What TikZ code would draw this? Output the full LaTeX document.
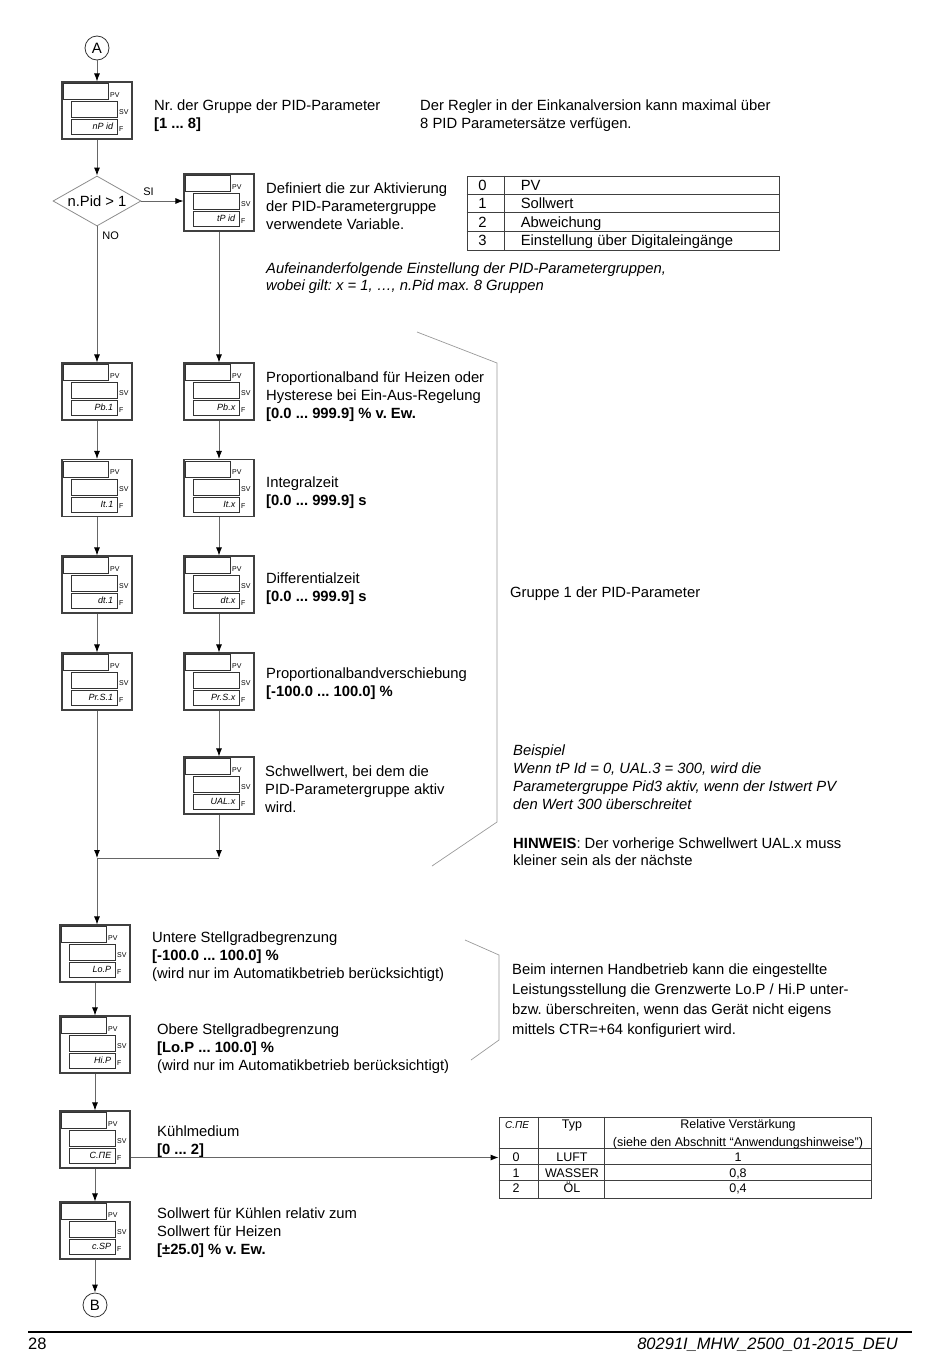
\documentclass[tikz,border=0pt]{standalone}
\usepackage{fontspec}
\setmainfont{Liberation Sans}
\frenchspacing
\usetikzlibrary{positioning,calc,arrows.meta,shapes.geometric}
\tikzset{disp/.style={rectangle, draw=black!75, line width=1.1pt, minimum width=70pt, minimum height=57pt, inner sep=0pt},
       dispin/.style={draw=black!80, line width=0.7pt},
       tag/.style={anchor=base west, inner sep=0pt, font=\fontsize{7}{7}\selectfont},
       segtxt/.style={anchor=base east, inner sep=0pt, font=\fontsize{9}{9}\selectfont\itshape},
       flow/.style={draw=black!60, line width=0.9pt, -{Latex[length=8pt,width=6pt,color=black]}},
       conn/.style={draw=black!60, line width=0.9pt},
       brack/.style={draw=black!40, line width=0.7pt},
       txt/.style={anchor=north west, align=left, inner sep=0pt, font=\fontsize{14.8}{18}\selectfont},
       lbl/.style={inner sep=0pt, font=\fontsize{11}{11}\selectfont},
       cnode/.style={circle, draw=black!80, line width=0.8pt, minimum size=24pt, inner sep=0pt, font=\fontsize{15}{15}\selectfont},
       decide/.style={diamond, draw=black!45, line width=0.8pt, aspect=1.76, minimum width=88pt, minimum height=50pt, inner sep=0pt, font=\fontsize{14.8}{15}\selectfont},
       tabframe/.style={rectangle, draw=black!75, line width=0.8pt, inner sep=0pt},
       tabline/.style={draw=black!75, line width=0.6pt},
       celltxt/.style={anchor=base, inner sep=0pt, font=\fontsize{14.8}{15}\selectfont},
       smallcell/.style={anchor=base, inner sep=0pt, font=\fontsize{12.5}{14}\selectfont},
       foot/.style={inner sep=0pt, font=\fontsize{16.5}{17}\selectfont}}
\newcommand\dispbox[3]{%
  \node[disp] (#1) at (#2) {};
  \draw[dispin] ($(#1.north west)+(2,2)$) rectangle ($(#1.north west)+(47,18)$);
  \draw[dispin] ($(#1.north west)+(10,20)$) rectangle ($(#1.north west)+(56,36)$);
  \draw[dispin] ($(#1.north west)+(10,38)$) rectangle ($(#1.north west)+(56,53)$);
  \node[tag] (#1-pv) at ($(#1.north west)+(48.5,16)$) {PV};
  \node[tag] (#1-sv) at ($(#1.north west)+(57.5,33)$) {SV};
  \node[tag] (#1-f) at ($(#1.north west)+(57.5,50)$) {F};
  \node[segtxt] (#1-code) at ($(#1.north west)+(52,48.5)$) {#3};}
\begin{document}
\begin{tikzpicture}[x=1pt,y=-1pt]
\useasboundingbox (0,0) rectangle (950,1360);
\node[cnode] (pA) at (97,48) {A};
\dispbox{npid}{97,110.5}{nP id}
\node[decide] (npidq) at (97,201) {n.Pid > 1};
\dispbox{tpid}{219,202.5}{tP id}
\dispbox{pbone}{97,391.5}{Pb.1}
\dispbox{itone}{97,488}{It.1}
\dispbox{dtone}{97,584.5}{dt.1}
\dispbox{prsone}{97,681.5}{Pr.S.1}
\dispbox{pbx}{219,391.5}{Pb.x}
\dispbox{itx}{219,488}{It.x}
\dispbox{dtx}{219,584.5}{dt.x}
\dispbox{prsx}{219,681.5}{Pr.S.x}
\dispbox{ualx}{219,785.5}{UAL.x}
\dispbox{lop}{95,953.5}{Lo.P}
\dispbox{hip}{95,1044.5}{Hi.P}
\dispbox{cme}{95,1139.5}{C.ΠE}
\dispbox{csp}{95,1230.5}{c.SP}
\node[cnode] (pB) at (95,1305) {B};

\draw[flow] (pA) -- (npid);
\draw[flow] (npid) -- (npidq);
\draw[flow] (npidq.east) -- (npidq.east -| tpid.west) node[lbl, pos=0.17, above=5pt] (si) {SI};
\draw[flow] (npidq.south) -- (pbone.north) node[lbl, pos=0.07, right=5pt] (no) {NO};
\draw[flow] (tpid) -- (pbx);
\foreach \a/\b in {pbone/itone, itone/dtone, dtone/prsone, pbx/itx, itx/dtx, dtx/prsx, prsx/ualx, lop/hip, hip/cme, cme/csp, csp/pB}
  \draw[flow] (\a) -- (\b);
\coordinate (joinl) at (97,858);
\coordinate (joinr) at (219,858);
\draw[flow] (prsone) -- (joinl);
\draw[flow] (ualx) -- (joinr);
\draw[conn] (joinl) -- (joinr);
\draw[flow] (joinl) -- (joinl |- lop.north);

\node[txt] (grptxt) at (154,99.5) {Nr. der Gruppe der PID-Parameter\\\textbf{[1 ... 8]}};
\node[txt] (maxtxt) at (420,99.5) {Der Regler in der Einkanalversion kann maximal über\\8 PID Parametersätze verfügen.};
\node[txt] (tpidtxt) at (266,182.5) {Definiert die zur Aktivierung\\der PID-Parametergruppe\\verwendete Variable.};
\node[txt, font=\fontsize{14.8}{17}\selectfont\itshape] (seqtxt) at (266,262.5) {Aufeinanderfolgende Einstellung der PID-Parametergruppen,\\wobei gilt: x = 1, …, n.Pid max. 8 Gruppen};
\node[txt] (pbtxt) at (266,371.5) {Proportionalband für Heizen oder\\Hysterese bei Ein-Aus-Regelung\\\textbf{[0.0 ... 999.9] \% v. Ew.}};
\node[txt] (ittxt) at (266,476.5) {Integralzeit\\\textbf{[0.0 ... 999.9] s}};
\node[txt] (dttxt) at (266,572.5) {Differentialzeit\\\textbf{[0.0 ... 999.9] s}};
\node[txt] (prstxt) at (266,667.5) {Proportionalbandverschiebung\\\textbf{[-100.0 ... 100.0] \%}};
\node[txt] (ualtxt) at (265,765.5) {Schwellwert, bei dem die\\PID-Parametergruppe aktiv\\wird.};
\node[txt] (grp1txt) at (510,586.5) {Gruppe 1 der PID-Parameter};
\node[txt, font=\fontsize{14.8}{18}\selectfont\itshape] (extxt) at (513,744.5) {Beispiel\\Wenn tP Id = 0, UAL.3 = 300, wird die\\Parametergruppe Pid3 aktiv, wenn der Istwert PV\\den Wert 300 überschreitet};
\node[txt, font=\fontsize{14.8}{17}\selectfont] (hintxt) at (513,837.5) {\textbf{HINWEIS}: Der vorherige Schwellwert UAL.x muss\\kleiner sein als der nächste};
\node[txt] (lotxt) at (152,931.5) {Untere Stellgradbegrenzung\\\textbf{[-100.0 ... 100.0] \%}\\(wird nur im Automatikbetrieb berücksichtigt)};
\node[txt] (hitxt) at (157,1023.5) {Obere Stellgradbegrenzung\\\textbf{[Lo.P ... 100.0] \%}\\(wird nur im Automatikbetrieb berücksichtigt)};
\node[txt, font=\fontsize{14.8}{20}\selectfont] (handtxt) at (512,963.5) {Beim internen Handbetrieb kann die eingestellte\\Leistungsstellung die Grenzwerte Lo.P / Hi.P unter-\\bzw. überschreiten, wenn das Gerät nicht eigens\\mittels CTR=+64 konfiguriert wird.};
\node[txt] (cmetxt) at (157,1125.5) {Kühlmedium\\\textbf{[0 ... 2]}};
\node[txt] (csptxt) at (157,1207.5) {Sollwert für Kühlen relativ zum\\Sollwert für Heizen\\\textbf{[±25.0] \% v. Ew.}};

\draw[brack] (417,332) -- (497,363) -- (497,822) -- (432,866);
\draw[brack] (465,940) -- (499,955) -- (499,1040) -- (471,1060);

\node[tabframe, minimum width=312pt, minimum height=74pt] (pidtab) at (623,213) {};
\draw[tabline] ($(pidtab.north west)+(38,0)$) -- ($(pidtab.south west)+(38,0)$);
\foreach \r in {1,2,3}
  \draw[tabline] ($(pidtab.north west)+(0,18.5*\r)$) -- ($(pidtab.north east)+(0,18.5*\r)$);
\foreach \k/\val [count=\i from 0] in {0/PV, 1/Sollwert, 2/Abweichung, 3/Einstellung über Digitaleingänge}{
  \node[celltxt] (pidk\k) at ($(pidtab.north west)+(16,14.5+18.5*\i)$) {\k};
  \node[celltxt, anchor=base west] (pidv\k) at ($(pidtab.north west)+(54,14.5+18.5*\i)$) {\val};}

\node[tabframe, minimum width=372pt, minimum height=81pt] (medtab) at (685,1157.5) {};
\draw[tabline] ($(medtab.north west)+(40,0)$) -- ($(medtab.south west)+(40,0)$);
\draw[tabline] ($(medtab.north west)+(106,0)$) -- ($(medtab.south west)+(106,0)$);
\foreach \r in {32,48,64}
  \draw[tabline] ($(medtab.north west)+(0,\r)$) -- ($(medtab.north east)+(0,\r)$);
\node[smallcell, font=\fontsize{10}{10}\selectfont\itshape] (medh1) at (517,1128) {C.ΠE};
\node[smallcell] (medh2) at (572,1128) {Typ};
\node[smallcell] (medh3) at (738,1128) {Relative Verstärkung};
\node[smallcell] (medh4) at (738,1146) {(siehe den Abschnitt “Anwendungshinweise”)};
\foreach \k/\typ/\gain [count=\i from 0] in {0/LUFT/1, 1/WASSER/{0,8}, 2/ÖL/{0,4}}{
  \node[smallcell] (medk\k) at (516,1161.5+15.5*\i) {\k};
  \node[smallcell] (medt\k) at (572,1161.5+15.5*\i) {\typ};
  \node[smallcell] (medg\k) at (738,1161.5+15.5*\i) {\gain};}
\draw[flow] (cme.east |- medtab.west) -- (medtab.west);

\draw[line width=2pt] (28,1332) -- (912,1332);
\node[foot, anchor=base west] (pageno) at (28,1349) {28};
\node[foot, anchor=base east, font=\fontsize{16.5}{17}\selectfont\itshape] (docid) at (898,1349) {80291I\_MHW\_2500\_01-2015\_DEU};
\end{tikzpicture}
\end{document}
